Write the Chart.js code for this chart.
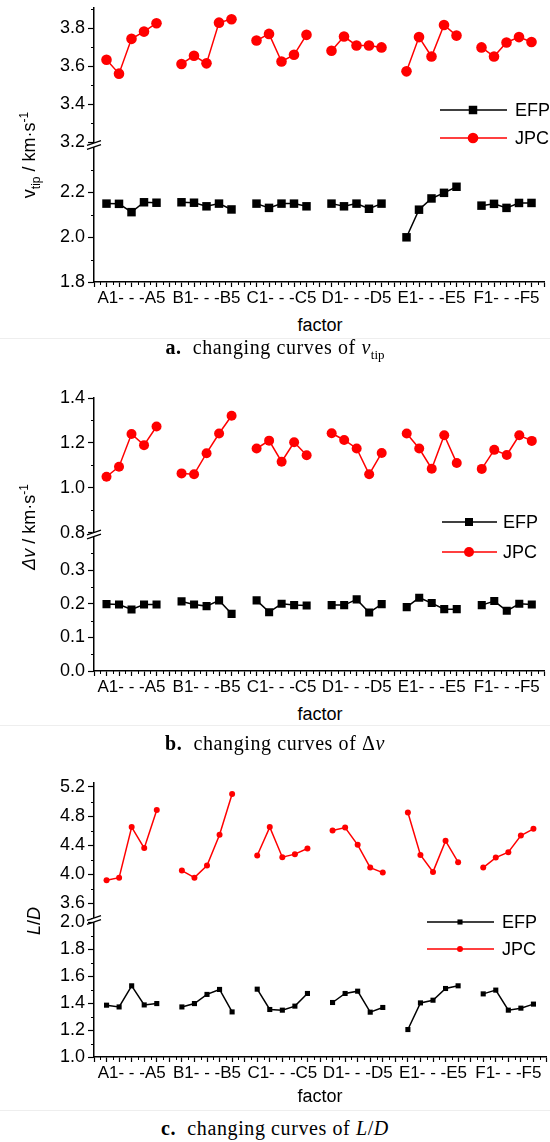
<!DOCTYPE html>
<html lang="en">
<head>
<meta charset="UTF-8">
<title>Changing curves of EFP and JPC</title>
<script src="https://cdn.jsdelivr.net/npm/chart.js"></script>
<style>
body { margin: 0; background: #fff; }
#page { position: relative; width: 550px; height: 1142px; overflow: hidden; font-family: 'Liberation Sans', Arial, sans-serif; color: #000; }
#page canvas { position: absolute; left: 0; }
.ytitle { position: absolute; font-size: 18px; line-height: 20px; white-space: nowrap; transform: translate(-50%, -50%) rotate(-90deg); }
.ytitle sub, .ytitle sup { font-size: 12px; line-height: 0; }
.xtitle { position: absolute; left: 270px; width: 100px; text-align: center; font-size: 18px; line-height: 20px; }
.caption { position: absolute; left: 0; width: 550px; text-align: center; font-family: 'Liberation Serif', serif; font-size: 20px; letter-spacing: 0.6px; line-height: 22px; }
.caption sub { font-size: 13px; line-height: 0; letter-spacing: 0; }
.sep { position: absolute; left: 0; width: 550px; border-top: 1px solid #eee; }
</style>
</head>
<body>
<div id="page">
  <canvas id="chartA" width="550" height="312" style="top:0px"></canvas>
  <canvas id="chartB" width="550" height="311" style="top:390px"></canvas>
  <canvas id="chartC" width="550" height="312" style="top:775px"></canvas>

  <div class="ytitle" style="left:29px; top:155px">v<sub>tip</sub> / km·s<sup>-1</sup></div>
  <div class="ytitle" style="left:29px; top:527px"><i>Δv</i> / km·s<sup>-1</sup></div>
  <div class="ytitle" style="left:34px; top:921px"><i>L</i>/<i>D</i></div>

  <div class="xtitle" style="top:315px">factor</div>
  <div class="xtitle" style="top:704px">factor</div>
  <div class="xtitle" style="top:1086px">factor</div>

  <div class="sep" style="top:338px"></div>
  <div class="sep" style="top:725px"></div>
  <div class="sep" style="top:1110px"></div>

  <div class="caption" style="top:336px"><b>a.</b>&nbsp; changing curves of <i>v</i><sub>tip</sub></div>
  <div class="caption" style="top:732px"><b>b.</b>&nbsp; changing curves of Δ<i>v</i></div>
  <div class="caption" style="top:1117px"><b>c.</b>&nbsp; changing curves of <i>L</i>/<i>D</i></div>
</div>

<script>
// factor groups A..F, five levels each, one empty slot between groups
const factorTicks = [3, 9, 15, 21, 27, 33];
const factorLabels = ['A1- - -A5', 'B1- - -B5', 'C1- - -C5', 'D1- - -D5', 'E1- - -E5', 'F1- - -F5'];

// v_tip, km/s
const tipJPC = [3.635, 3.562, 3.745, 3.783, 3.827,  3.613, 3.656, 3.616, 3.830, 3.848,
                3.736, 3.771, 3.626, 3.661, 3.766,  3.682, 3.757, 3.710, 3.710, 3.700,
                3.574, 3.754, 3.652, 3.818, 3.762,  3.700, 3.652, 3.726, 3.754, 3.728];
const tipEFP = [2.149, 2.148, 2.111, 2.155, 2.153,  2.155, 2.153, 2.137, 2.149, 2.123,
                2.149, 2.130, 2.149, 2.149, 2.137,  2.149, 2.137, 2.149, 2.126, 2.149,
                1.999, 2.122, 2.172, 2.197, 2.224,  2.140, 2.148, 2.130, 2.152, 2.152];

// delta v, km/s
const dvJPC = [1.049, 1.094, 1.240, 1.190, 1.273,  1.064, 1.060, 1.154, 1.242, 1.321,
               1.175, 1.210, 1.116, 1.203, 1.145,  1.243, 1.213, 1.175, 1.060, 1.155,
               1.242, 1.175, 1.085, 1.234, 1.110,  1.084, 1.169, 1.146, 1.234, 1.209];
const dvEFP = [0.199, 0.198, 0.183, 0.198, 0.198,  0.207, 0.198, 0.193, 0.210, 0.170,
               0.210, 0.175, 0.200, 0.196, 0.195,  0.196, 0.196, 0.213, 0.174, 0.199,
               0.190, 0.218, 0.202, 0.184, 0.184,  0.196, 0.208, 0.179, 0.200, 0.198];

// L/D
const ldJPC = [3.917, 3.953, 4.648, 4.359, 4.883,  4.050, 3.953, 4.119, 4.542, 5.103,
               4.257, 4.648, 4.234, 4.276, 4.353,  4.601, 4.643, 4.404, 4.091, 4.022,
               4.850, 4.266, 4.032, 4.459, 4.165,  4.091, 4.229, 4.303, 4.533, 4.625];
const ldEFP = [1.385, 1.372, 1.529, 1.387, 1.397,  1.372, 1.397, 1.465, 1.502, 1.335,
               1.504, 1.353, 1.348, 1.378, 1.472,  1.405, 1.472, 1.489, 1.333, 1.368,
               1.204, 1.402, 1.422, 1.509, 1.529,  1.469, 1.497, 1.348, 1.363, 1.393];

const panels = {
  chartA: { top: 0, jpc: tipJPC, efp: tipEFP,
    hi: { min: 3.187, max: 3.907, step: 0.2, minor: 0.1, hide: [] },
    lo: { min: 1.8, max: 2.41, step: 0.2, minor: 0.1, hide: [2.4] },
    legend: { x1: 440, x2: 507, xm: 473, xt: 515, y1: 110, y2: 138 },
    rCircle: 5.3, rRect: 6 },
  chartB: { top: 390, jpc: dvJPC, efp: dvEFP,
    hi: { min: 0.7915, max: 1.4002, step: 0.2, minor: 0.1, hide: [] },
    lo: { min: 0, max: 0.406, step: 0.1, minor: 0.05, hide: [0.4] },
    legend: { x1: 442, x2: 497, xm: 469, xt: 503, y1: 522, y2: 552 },
    rCircle: 5, rRect: 5.7 },
  chartC: { top: 775, jpc: ldJPC, efp: ldEFP,
    hi: { min: 3.37, max: 5.255, step: 0.4, minor: 0.2, hide: [] },
    lo: { min: 1.0, max: 2.018, step: 0.2, minor: 0.1, hide: [] },
    legend: { x1: 427, x2: 494, xm: 460, xt: 502, y1: 922, y2: 949 },
    rCircle: 3, rRect: 3.6 }
};

const fam = "'Liberation Sans', Arial, sans-serif";

function toPoints(vals) {
  const pts = [];
  vals.forEach((v, i) => {
    const g = Math.floor(i / 5), k = i % 5;
    if (k === 0 && g > 0) pts.push({ x: g * 6, y: null });
    pts.push({ x: 1 + g * 6 + k, y: v });
  });
  return pts;
}

const isHidden = (o, v) => o.hide.some(h => Math.abs(h - v) < 1e-6);

function dot(ctx, style, x, y, r) {
  ctx.beginPath();
  if (style === 'circle') ctx.arc(x, y, r, 0, Math.PI * 2);
  else { const s = r * Math.SQRT1_2; ctx.rect(x - s, y - s, 2 * s, 2 * s); }
  ctx.fill();
}

const deco = {
  id: 'deco',
  afterDraw(chart) {
    const p = panels[chart.canvas.id];
    const ctx = chart.ctx;
    const x = chart.scales.x, hi = chart.scales.yHi, lo = chart.scales.yLo;
    const area = chart.chartArea;
    ctx.save();

    // minor ticks
    ctx.strokeStyle = '#000';
    ctx.lineWidth = 1;
    ctx.beginPath();
    for (let v = 0.5; v < 36; v += 1) {
      const px = Math.round(x.getPixelForValue(v)) + 0.5;
      ctx.moveTo(px, area.bottom); ctx.lineTo(px, area.bottom + 3);
    }
    [[hi, p.hi], [lo, p.lo]].forEach(([s, o]) => {
      for (let k = Math.ceil(o.min / o.minor - 1e-9); k * o.minor <= o.max + 1e-9; k++) {
        const v = k * o.minor;
        if (Math.abs(v / o.step - Math.round(v / o.step)) < 1e-6) continue;
        const py = Math.round(s.getPixelForValue(v)) + 0.5;
        ctx.moveTo(area.left - 3, py); ctx.lineTo(area.left, py);
      }
    });
    ctx.stroke();

    // axis break
    const j = Math.max(hi.top, lo.top);
    const L = area.left;
    ctx.fillStyle = '#fff';
    ctx.fillRect(L - 2, j - 2, 4, 4);
    ctx.lineWidth = 1.3;
    ctx.beginPath();
    ctx.moveTo(L - 7, j + 0.3); ctx.lineTo(L + 7, j - 4.3);
    ctx.moveTo(L - 7, j + 4.3); ctx.lineTo(L + 7, j - 0.3);
    ctx.stroke();

    // legend
    const g = p.legend;
    const rows = [
      { y: g.y1 - p.top, color: '#000', style: 'rect', r: p.rRect, text: 'EFP' },
      { y: g.y2 - p.top, color: '#f00', style: 'circle', r: p.rCircle, text: 'JPC' }
    ];
    ctx.font = '18px ' + fam;
    ctx.textBaseline = 'middle';
    ctx.textAlign = 'left';
    rows.forEach(rw => {
      ctx.strokeStyle = rw.color;
      ctx.fillStyle = rw.color;
      ctx.lineWidth = 1.5;
      ctx.beginPath(); ctx.moveTo(g.x1, rw.y); ctx.lineTo(g.x2, rw.y); ctx.stroke();
      dot(ctx, rw.style, g.xm, rw.y, rw.r);
      ctx.fillStyle = '#000';
      ctx.fillText(rw.text, g.xt, rw.y + 1);
    });
    ctx.restore();
  }
};

function yScale(o) {
  return {
    type: 'linear', position: 'left', stack: 'v', stackWeight: 1,
    min: o.min, max: o.max,
    ticks: {
      stepSize: o.step, includeBounds: false, autoSkip: false, padding: 3, color: '#000',
      font: { family: fam, size: 18 },
      callback: v => isHidden(o, v) ? '' : v.toFixed(1)
    },
    grid: {
      drawOnChartArea: false, tickLength: 6, tickWidth: 1.2,
      tickColor: c => (c.tick && isHidden(o, c.tick.value)) ? 'rgba(0,0,0,0)' : '#000'
    },
    border: { color: '#000', width: 1.5 },
    afterFit: s => { s.width = 94; s.paddingTop = 0; s.paddingBottom = 0; }
  };
}

function makeChart(id) {
  const p = panels[id];
  return new Chart(document.getElementById(id), {
    type: 'line',
    data: {
      datasets: [
        { label: 'EFP', data: toPoints(p.efp), yAxisID: 'yLo',
          borderColor: '#000', backgroundColor: '#000', borderWidth: 1.5,
          pointStyle: 'rect', pointRadius: p.rRect, pointBorderWidth: 0, spanGaps: false },
        { label: 'JPC', data: toPoints(p.jpc), yAxisID: 'yHi',
          borderColor: '#f00', backgroundColor: '#f00', borderWidth: 1.5,
          pointStyle: 'circle', pointRadius: p.rCircle, pointBorderWidth: 0, spanGaps: false }
      ]
    },
    options: {
      responsive: false,
      animation: false,
      events: [],
      layout: { padding: { top: 8, right: 1, left: 0, bottom: 0 } },
      plugins: { legend: { display: false }, tooltip: { enabled: false } },
      scales: {
        x: {
          type: 'linear', min: 0, max: 36, position: 'bottom',
          ticks: {
            stepSize: 1, autoSkip: false, maxRotation: 0, minRotation: 0, includeBounds: false,
            padding: 1, color: '#000', font: { family: fam, size: 17 },
            callback: v => { const i = factorTicks.indexOf(v); return i < 0 ? '' : factorLabels[i]; }
          },
          grid: { drawOnChartArea: false, tickLength: 5, tickWidth: 1.2, tickColor: '#000' },
          border: { color: '#000', width: 1.5 },
          afterFit: s => { s.height = 30; s.paddingLeft = 0; s.paddingRight = 0; }
        },
        yLo: yScale(p.lo),
        yHi: yScale(p.hi)
      }
    },
    plugins: [deco]
  });
}

makeChart('chartA');
makeChart('chartB');
makeChart('chartC');
</script>
</body>
</html>
